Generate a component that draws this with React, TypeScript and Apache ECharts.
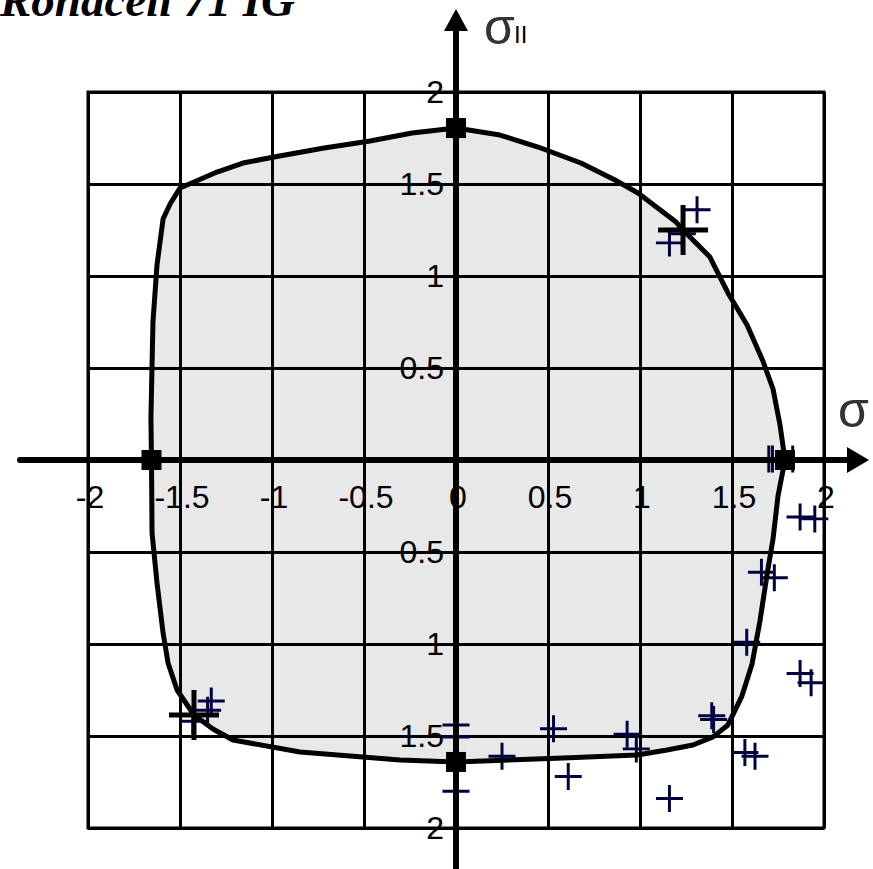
import React, { useEffect, useRef } from "react";
import * as echarts from "echarts";

// Yield locus outline in the (σI, σII) stress plane, clockwise from the top
const locusOutline: [number, number][] = [
  [0, 1.804], [0.239, 1.766], [0.446, 1.701], [0.679, 1.614], [0.864, 1.522],
  [0.989, 1.451], [1.196, 1.293], [1.234, 1.25], [1.38, 1.103], [1.478, 0.908],
  [1.582, 0.734], [1.668, 0.538], [1.723, 0.386], [1.761, 0.19], [1.788, 0],
  [1.75, -0.196], [1.723, -0.429], [1.69, -0.625], [1.652, -0.875], [1.609, -1.109],
  [1.554, -1.283], [1.478, -1.44], [1.397, -1.505], [1.288, -1.549], [1.147, -1.576],
  [0.984, -1.603], [0.582, -1.62], [0, -1.641], [-0.304, -1.63], [-0.848, -1.587],
  [-1.212, -1.522], [-1.321, -1.462], [-1.424, -1.386], [-1.516, -1.25], [-1.565, -1.103],
  [-1.592, -0.94], [-1.625, -0.668], [-1.652, -0.397], [-1.655, 0], [-1.658, 0.228],
  [-1.647, 0.75], [-1.625, 1.06], [-1.592, 1.31], [-1.554, 1.391], [-1.5, 1.478],
  [-1.424, 1.511], [-1.299, 1.565], [-1.158, 1.614], [-0.989, 1.647], [-0.717, 1.696],
  [-0.467, 1.734], [-0.239, 1.777], [0, 1.804],
];

// Uniaxial strengths (tension / compression on each axis)
const uniaxialPoints: [number, number][] = [
  [0, 1.804], [1.788, 0], [0, -1.641], [-1.655, 0],
];

// Equibiaxial strengths
const biaxialPoints: [number, number][] = [
  [1.234, 1.25], [-1.424, -1.386],
];

// Measured failure stresses
const testPoints: [number, number][] = [
  [1.31, 1.36], [1.16, 1.18], [1.23, 1.23],
  [-1.33, -1.31], [-1.35, -1.36], [-1.43, -1.42],
  [0, -1.44], [0, -1.505], [0, -1.8],
  [0.25, -1.61], [0.53, -1.46], [0.61, -1.72],
  [0.93, -1.49], [0.98, -1.57], [1.16, -1.84],
  [1.39, -1.39], [1.4, -1.41], [1.57, -1.59], [1.625, -1.61],
  [1.7, 0.005], [1.72, 0.005], [1.83, 0.005],
  [1.87, -0.31], [1.95, -0.32],
  [1.66, -0.61], [1.73, -0.64],
  [1.58, -0.99],
  [1.87, -1.16], [1.93, -1.21],
];

const AXIS_MIN = -2;
const AXIS_MAX = 2;
const AXIS_STEP = 0.5;

const labelFont = "'Liberation Sans', Arial, sans-serif";
const plusThin = "path://M0,44.5H44.5V0H55.5V44.5H100V55.5H55.5V100H44.5V55.5H0Z";
const plusBold = "path://M0,45H45V0H55V45H100V55H55V100H45V55H0Z";

const hiddenAxis = (gridIndex: number, extra: any = {}) => ({
  type: "value",
  gridIndex,
  min: AXIS_MIN,
  max: AXIS_MAX,
  interval: AXIS_STEP,
  axisLine: { show: false },
  axisTick: { show: false },
  axisLabel: { show: false },
  splitLine: { show: false },
  ...extra,
});

export default function App() {
  const ref = useRef<HTMLDivElement>(null);

  useEffect(() => {
    if (!ref.current) return;
    const chart = echarts.init(ref.current, undefined, { renderer: "svg" });

    const labelStyle = {
      show: true,
      color: "#000",
      fontFamily: labelFont,
      fontSize: 32,
    };

    const option: any = {
      animation: false,
      backgroundColor: "#fff",
      title: {
        text: "Rohacell 71 IG",
        left: 0,
        top: -24,
        padding: 0,
        textStyle: {
          fontFamily: "'Liberation Serif', 'Times New Roman', serif",
          fontStyle: "italic",
          fontWeight: "bold",
          fontSize: 47,
          color: "#000",
        },
      },
      grid: [
        // square grid of the stress plane
        {
          left: 88,
          top: 92,
          width: 736,
          height: 736,
          show: true,
          borderColor: "#000",
          borderWidth: 3,
          backgroundColor: "transparent",
        },
        // long axes with arrow heads
        { left: 20, right: 15, top: 20, bottom: 0 },
        // upper half: its bottom edge is σI axis, carries σI tick labels
        { left: 88, top: 92, width: 736, height: 368 },
        // right half: its left edge is σII axis, carries σII tick labels
        { left: 456, top: 92, width: 368, height: 736 },
      ],
      xAxis: [
        hiddenAxis(0, {
          splitLine: { show: true, lineStyle: { color: "#000", width: 3 } },
        }),
        {
          type: "value",
          gridIndex: 1,
          min: -2.3696,
          max: 2.1848,
          z: 2.5,
          axisLine: {
            show: true,
            onZero: true,
            symbol: ["none", "triangle"],
            symbolSize: [26, 22],
            lineStyle: { color: "#000", width: 6 },
          },
          axisTick: { show: false },
          axisLabel: { show: false },
          splitLine: { show: false },
        },
        hiddenAxis(2, {
          position: "bottom",
          axisLabel: {
            ...labelStyle,
            margin: 21,
            padding: [0, 0, 0, 4],
            formatter: (v: number) => String(v),
          },
        }),
        hiddenAxis(3),
      ],
      yAxis: [
        hiddenAxis(0, {
          splitLine: { show: true, lineStyle: { color: "#000", width: 3 } },
        }),
        {
          type: "value",
          gridIndex: 1,
          min: -2.2228,
          max: 2.3913,
          z: 2.5,
          axisLine: {
            show: true,
            onZero: true,
            symbol: ["none", "triangle"],
            symbolSize: [24, 22],
            lineStyle: { color: "#000", width: 6 },
          },
          axisTick: { show: false },
          axisLabel: { show: false },
          splitLine: { show: false },
        },
        hiddenAxis(2),
        hiddenAxis(3, {
          position: "left",
          axisLabel: {
            ...labelStyle,
            margin: 12,
            padding: [9, 0, 0, 0],
            formatter: (v: number) => (v === 0 ? "" : String(Math.abs(v))),
          },
        }),
      ],
      series: [
        {
          // shaded interior of the locus
          type: "custom",
          xAxisIndex: 0,
          yAxisIndex: 0,
          z: 1,
          silent: true,
          data: [[0, 0]],
          renderItem: (params: any, api: any) => {
            if (params.dataIndex !== 0) return null;
            const pts = locusOutline.map((p) => api.coord(p));
            return {
              type: "polygon",
              shape: { points: pts },
              style: { fill: "rgba(0,0,0,0.09)", stroke: "none" },
            };
          },
        },
        {
          type: "scatter",
          xAxisIndex: 0,
          yAxisIndex: 0,
          z: 2,
          data: testPoints,
          symbol: plusThin,
          symbolSize: 27,
          itemStyle: { color: "#000040", opacity: 1 },
        },
        {
          type: "line",
          xAxisIndex: 0,
          yAxisIndex: 0,
          z: 3,
          data: locusOutline,
          symbol: "none",
          lineStyle: { color: "#000", width: 5, join: "round" },
        },
        {
          type: "scatter",
          xAxisIndex: 0,
          yAxisIndex: 0,
          z: 4,
          data: uniaxialPoints,
          symbol: "rect",
          symbolSize: 20,
          itemStyle: { color: "#000", opacity: 1 },
        },
        {
          type: "scatter",
          xAxisIndex: 0,
          yAxisIndex: 0,
          z: 4,
          data: biaxialPoints,
          symbol: plusBold,
          symbolSize: 50,
          itemStyle: { color: "#000", opacity: 1 },
        },
      ],
      graphic: [
        {
          type: "text",
          left: 838,
          top: 385,
          style: {
            text: "σ",
            fontFamily: "'Liberation Sans', sans-serif",
            fontSize: 50,
            fill: "#333",
          },
        },
        {
          type: "text",
          left: 484,
          top: 2,
          style: {
            text: "σ",
            fontFamily: "'Liberation Sans', sans-serif",
            fontSize: 50,
            fill: "#333",
          },
        },
        {
          type: "text",
          left: 514,
          top: 22,
          style: {
            text: "II",
            fontFamily: "'Liberation Sans', sans-serif",
            fontSize: 24,
            fill: "#000",
          },
        },
      ],
    };

    chart.setOption(option);
    return () => chart.dispose();
  }, []);

  return (
    <div
      ref={ref}
      style={{ position: "fixed", left: 0, top: 0, width: 873, height: 869 }}
    />
  );
}
